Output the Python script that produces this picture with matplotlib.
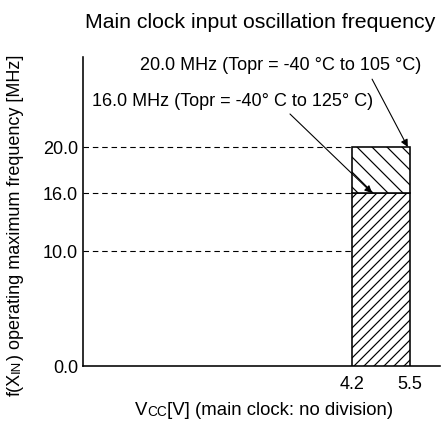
import numpy as np
import matplotlib
matplotlib.use('Agg')
import matplotlib.pyplot as plt
from matplotlib.text import Annotation

# ---- data ----
freq_ticks = [0.0, 10.0, 16.0, 20.0]
freq_tick_labels = ["0.0", "10.0", "16.0", "20.0"]
vcc_ticks = [4.2, 5.5]
vcc_tick_labels = ["4.2", "5.5"]
vcc_min, vcc_max = 4.2, 5.5
freq_125 = 16.0          # Topr -40..125 C
freq_105 = 20.0          # Topr -40..105 C
dashed_levels = [20.0, 16.0, 10.0]
title = "Main clock input oscillation frequency"
label_105 = "20.0 MHz (Topr = -40 °C to 105 °C)"
label_125 = "16.0 MHz (Topr = -40° C to 125° C)"

DPI = 180
W, H = 442, 437


def pt(px):
    """pixel size -> points at this dpi"""
    return px * 72.0 / DPI


plt.rcParams['font.family'] = ['Liberation Sans', 'DejaVu Sans']
plt.rcParams['hatch.color'] = 'black'
plt.rcParams['hatch.linewidth'] = pt(1.2)

fig = plt.figure(figsize=(W / DPI, H / DPI), dpi=DPI)


def fx(px):
    return px / W


def fy(py):
    return 1 - py / H


FS = pt(18.0)      # ~13pt at 100 dpi
FS_T = pt(21.3)
FS_S = pt(13.2)

left, right, top, bottom = 83, 440, 58, 367
ax = fig.add_axes([fx(left), fy(bottom), (right - left) / W, (bottom - top) / H])

# schematic (non-uniform) vertical axis
_v = np.array([0.0, 10.0, 16.0, 20.0, 40.0])
_p = np.array([0.0, 115.0, 173.0, 219.0, 219.0 + 20 * 11.5])


def fwd(v):
    return np.interp(v, _v, _p)


def inv(p):
    return np.interp(p, _p, _v)


ax.set_yscale('function', functions=(fwd, inv))
ax.set_ylim(0, float(inv(bottom - top)))
px_per_v = 58 / 1.3
ax.set_xlim(4.2 - (352 - left) / px_per_v, 5.5 + (right - 410) / px_per_v)

xmin = ax.get_xlim()[0]
ax.hlines(dashed_levels, xmin, vcc_min, colors='black',
          linestyles=(0, (5, 3.5)), lw=pt(1.1))

# hatch spacing (horizontal) = dpi / (3 * count): 6 -> 10 px, 4 -> 15 px
ax.bar(vcc_min, freq_125, width=vcc_max - vcc_min, bottom=0, align='edge',
       facecolor='white', edgecolor='black', hatch='//////', lw=pt(1.6), zorder=3)
ax.bar(vcc_min, freq_105 - freq_125, width=vcc_max - vcc_min, bottom=freq_125, align='edge',
       facecolor='white', edgecolor='black', hatch='\\\\\\\\', lw=pt(1.6), zorder=3)

for s in ['top', 'right']:
    ax.spines[s].set_visible(False)
for s in ['left', 'bottom']:
    ax.spines[s].set_linewidth(pt(1.6))

ax.set_yticks(freq_ticks)
ax.set_yticklabels(freq_tick_labels)
ax.set_xticks(vcc_ticks)
ax.set_xticklabels(vcc_tick_labels)
ax.yaxis.set_minor_locator(matplotlib.ticker.NullLocator())
ax.xaxis.set_minor_locator(matplotlib.ticker.NullLocator())
ax.tick_params(axis='y', length=0, pad=pt(5), labelsize=FS)
ax.tick_params(axis='x', length=0, pad=pt(9), labelsize=FS)

# arrows
ap = dict(arrowstyle='-|>', lw=pt(1.1), color='black', mutation_scale=pt(15),
          shrinkA=0, shrinkB=0)
ax.annotate('', xy=(5.45, freq_105), xytext=(4.65, 25.9), arrowprops=ap, zorder=5)
ax.annotate('', xy=(4.65, freq_125), xytext=(2.81, 22.87), arrowprops=ap, zorder=5)

# texts
fig.text(fx(140), fy(65), label_105, fontsize=FS, ha='left', va='center')
fig.text(fx(92), fy(102), label_125, fontsize=FS, ha='left', va='center')
fig.text(fx(260), fy(22), title, fontsize=FS_T, ha='center', va='center')

# x label with small caps "CC"
FSX = pt(18.6)
t1 = fig.text(fx(135), fy(419), "V", fontsize=FSX, ha='left', va='bottom')
a2 = fig.add_artist(Annotation("CC", xy=(1, 0), xycoords=t1, fontsize=pt(13.6),
                               ha='left', va='bottom'))
a3 = fig.add_artist(Annotation("[V] (main clock: no division)", xy=(1, 0), xycoords=a2,
                               fontsize=FSX, ha='left', va='bottom'))

# y label with small caps "IN"
y1 = fig.text(fx(24), fy(396), "f(X", fontsize=FS, rotation=90, ha='right', va='bottom')
y2 = fig.add_artist(Annotation("IN", xy=(1, 1), xycoords=y1, fontsize=FS_S,
                               xytext=(-pt(1.2), 0), textcoords='offset points',
                               rotation=90, ha='right', va='bottom'))
y3 = fig.add_artist(Annotation(") operating maximum frequency [MHz]", xy=(1, 1), xycoords=y2,
                               xytext=(pt(1.2), 0), textcoords='offset points',
                               fontsize=FS, rotation=90, ha='right', va='bottom'))

fig.savefig('out.png', dpi=DPI)
